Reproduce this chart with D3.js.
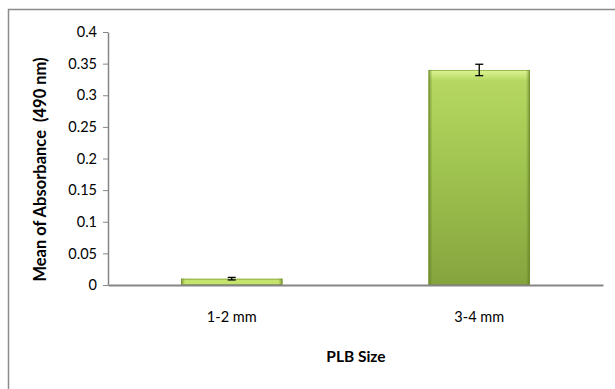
<!DOCTYPE html>
<html><head><meta charset="utf-8">
<script src="https://cdn.jsdelivr.net/npm/d3@7"></script>
<style>body{margin:0;background:#fff}svg{display:block}text{font-family:Lato,"Open Sans",sans-serif}</style>
</head><body>
<script>
const categories = ["1-2 mm", "3-4 mm"];
const means = [0.010, 0.340];
const errors = [0.002, 0.009];
const yTicks = [0, 0.05, 0.1, 0.15, 0.2, 0.25, 0.3, 0.35, 0.4];
const yTickLabels = ["0", "0.05", "0.1", "0.15", "0.2", "0.25", "0.3", "0.35", "0.4"];
const xTitle = "PLB Size";
const yTitle = "Mean of Absorbance  (490 nm)";

(function(){
const W = 615, H = 389;
const svg = d3.select("body").append("svg").attr("width", W).attr("height", H);
const defs = svg.append("defs");
const g1 = defs.append("linearGradient").attr("id","gv").attr("x1",0).attr("y1",0).attr("x2",0).attr("y2",1);
g1.append("stop").attr("offset","0").attr("stop-color","#ddf594");
g1.append("stop").attr("offset","0.05").attr("stop-color","#b6d862");
g1.append("stop").attr("offset","0.45").attr("stop-color","#a0c450");
g1.append("stop").attr("offset","1").attr("stop-color","#86a43e");
const g2 = defs.append("linearGradient").attr("id","gh").attr("x1",0).attr("y1",0).attr("x2",1).attr("y2",0);
g2.append("stop").attr("offset","0").attr("stop-color","#5e7a22").attr("stop-opacity",0.7);
g2.append("stop").attr("offset","0.04").attr("stop-color","#5e7a22").attr("stop-opacity",0);
g2.append("stop").attr("offset","0.96").attr("stop-color","#5e7a22").attr("stop-opacity",0);
g2.append("stop").attr("offset","1").attr("stop-color","#5e7a22").attr("stop-opacity",0.7);

// outer border
svg.append("rect").attr("x",8.5).attr("y",9.5).attr("width",W).attr("height",H)
  .attr("fill","none").attr("stroke","#8c8c8c").attr("stroke-width",1.5);

const mLeft = 108, mRight = 603, mTop = 32, mBottom = 285;
const x = d3.scaleBand().domain(categories).range([mLeft, mRight]).paddingInner(0.59).paddingOuter(0.295);
const y = d3.scaleLinear().domain([0, 0.4]).range([mBottom, mTop]);

// bars
const bars = svg.append("g");
categories.forEach((c, i) => {
  const bx = x(c), bw = x.bandwidth(), by = y(means[i]), bh = y(0) - y(means[i]);
  bars.append("rect").attr("x", bx).attr("y", by).attr("width", bw).attr("height", bh).attr("fill", i === 0 ? "#c4e46e" : "url(#gv)");
  bars.append("rect").attr("x", bx).attr("y", by).attr("width", bw).attr("height", bh).attr("fill", "url(#gh)");
  bars.append("rect").attr("x", bx+0.5).attr("y", by+0.5).attr("width", bw-1).attr("height", Math.max(0,bh-1))
    .attr("fill","none").attr("stroke", "#6f8e2c").attr("stroke-width",1).attr("stroke-opacity",0.6);
});

// error bars
const eb = svg.append("g").attr("stroke","#000").attr("stroke-width",1.3);
categories.forEach((c, i) => {
  const cx = x(c) + x.bandwidth()/2;
  const y1 = y(means[i] + errors[i]), y2 = y(means[i] - errors[i]);
  eb.append("line").attr("x1",cx).attr("x2",cx).attr("y1",y1).attr("y2",y2);
  eb.append("line").attr("x1",cx-4).attr("x2",cx+4).attr("y1",y1).attr("y2",y1);
  eb.append("line").attr("x1",cx-4).attr("x2",cx+4).attr("y1",y2).attr("y2",y2);
});

// y axis
const yAxis = d3.axisLeft(y).tickValues(yTicks).tickFormat((d,i) => yTickLabels[i]).tickSize(5).tickSizeOuter(0).tickPadding(6);
const ya = svg.append("g").attr("transform",`translate(${mLeft},0)`).call(yAxis);
ya.select(".domain").attr("stroke","#868686").attr("stroke-width",1.5);
ya.selectAll(".tick line").attr("stroke","#868686");
ya.selectAll(".tick text").attr("font-size",14.5).attr("fill","#000").attr("font-family","Lato,'Open Sans',sans-serif");

// x axis
const xAxis = d3.axisBottom(x).tickSize(0).tickSizeOuter(0).tickPadding(27);
const xa = svg.append("g").attr("transform",`translate(0,${mBottom})`).call(xAxis);
xa.select(".domain").attr("stroke","#868686").attr("stroke-width",2);
xa.selectAll(".tick text").attr("font-size",14.5).attr("fill","#000").attr("font-family","Lato,'Open Sans',sans-serif");

// titles
svg.append("text").attr("x",356).attr("y",362).attr("text-anchor","middle")
  .attr("font-size",15.5).attr("font-weight","bold").text(xTitle);
svg.append("text").attr("transform",`translate(46,${(mTop+mBottom)/2+11}) rotate(-90)`).attr("text-anchor","middle")
  .attr("font-size",16.5).attr("font-weight","bold").style("white-space","pre").text(yTitle);
})();
</script>
</body></html>
